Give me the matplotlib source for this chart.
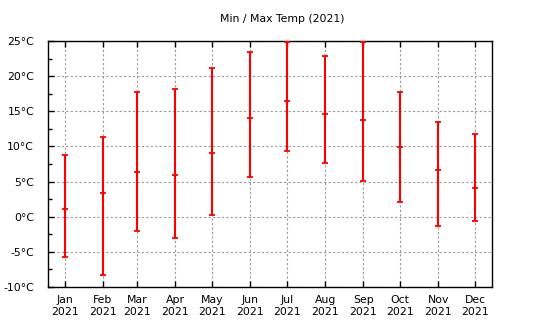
"""
Min / Max Temp (2021) - monthly min, mean, max as error bars
"""

import datetime as dt
import matplotlib
matplotlib.use("Agg")
import matplotlib.pyplot as plt
import matplotlib.dates as mdates
from matplotlib.ticker import MultipleLocator, FuncFormatter

# monthly data
months = ["Jan", "Feb", "Mar", "Apr", "May", "Jun",
          "Jul", "Aug", "Sep", "Oct", "Nov", "Dec"]
year = 2021
t_max = [8.8, 11.3, 17.7, 18.2, 21.2, 23.4, 24.9, 22.9, 24.9, 17.7, 13.5, 11.8]
t_mean = [1.1, 3.4, 6.4, 5.9, 9.1, 14.0, 16.4, 14.6, 13.8, 9.9, 6.7, 4.1]
t_min = [-5.7, -8.3, -2.0, -3.0, 0.3, 5.7, 9.3, 7.7, 5.1, 2.1, -1.3, -0.6]

plt.rcParams['font.family'] = ['DejaVu Sans']
plt.rcParams['font.size'] = 7.8

dates = [dt.datetime(year, m, 1) for m in range(1, 13)]
x = mdates.date2num(dates)
lo = [m - a for m, a in zip(t_mean, t_min)]
hi = [b - m for m, b in zip(t_mean, t_max)]

fig = plt.figure(figsize=(5.4, 3.3), dpi=100)
ax = fig.add_axes([48 / 540, 1 - 287 / 330, 444 / 540, 246 / 330])

ax.errorbar(x, t_mean, yerr=[lo, hi], fmt='_', color='#ff0000', ecolor='#ff0000',
            elinewidth=1.5, capsize=2.2, capthick=1.3, markersize=4.4,
            markeredgewidth=1.3, zorder=3, clip_on=False)

pad = 13.85
ax.set_xlim(x[0] - pad, x[-1] + pad)
ax.set_ylim(-10, 25)

ax.set_xticks(x)
ax.set_xticklabels([f"{m}\n{year}" for m in months], linespacing=1.25)
ax.yaxis.set_major_locator(MultipleLocator(5))
ax.yaxis.set_minor_locator(MultipleLocator(2.5))
ax.yaxis.set_major_formatter(FuncFormatter(lambda v, p: f"{v:.0f}°C"))

ax.tick_params(axis='both', which='both', direction='in', color='black')
ax.tick_params(axis='x', which='major', length=4, width=1, top=True, pad=6)
ax.tick_params(axis='y', which='major', length=4, width=1, pad=10)
ax.tick_params(axis='y', which='minor', length=3, width=1)
ax.tick_params(axis='x', which='minor', bottom=False)

ax.grid(True, which='major', color='#999999', linestyle=(0, (2, 2)), linewidth=0.8)
ax.set_axisbelow(True)
for s in ax.spines.values():
    s.set_linewidth(1)
    s.set_color('black')

fig.text(282 / 540, 1 - 19 / 330, f"Min / Max Temp ({year})", ha='center', va='center',
         fontsize=7.8)

fig.savefig("out.png", dpi=100)
